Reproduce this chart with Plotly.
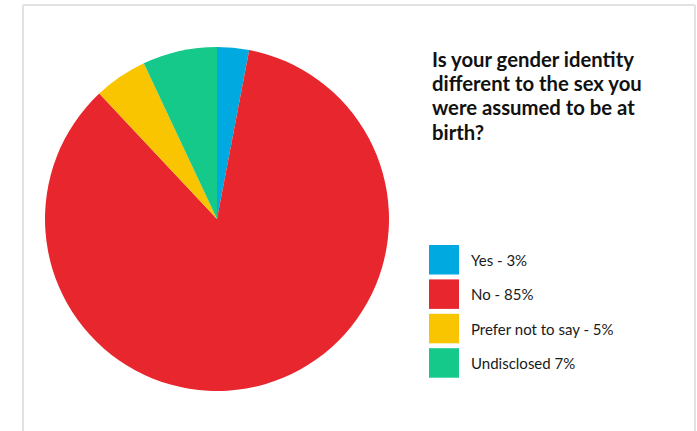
import plotly.graph_objects as go

# Survey answers and their shares (percent)
labels = ["Yes", "No", "Prefer not to say", "Undisclosed"]
values = [3, 85, 5, 7]
legend_text = ["Yes - 3%", "No - 85%", "Prefer not to say - 5%", "Undisclosed 7%"]
colors = ["#00A9E0", "#E8262D", "#F9C500", "#14C98A"]

title_lines = ["Is your gender identity", "different to the sex you",
               "were assumed to be at", "birth?"]

W, H = 697, 431

fig = go.Figure()
fig.add_trace(go.Pie(
    labels=labels,
    values=values,
    marker=dict(colors=colors, line=dict(width=0)),
    sort=False,
    direction="clockwise",
    rotation=0,
    textinfo="none",
    hoverinfo="label+percent",
    showlegend=False,
    domain=dict(x=[45 / W, 389 / W], y=[(H - 391) / H, (H - 47) / H]),
))

shapes = []
# light card border
border = "#E2E2E2"
shapes.append(dict(type="line", xref="paper", yref="paper",
                   x0=23 / W, x1=695 / W, y0=(H - 5) / H, y1=(H - 5) / H,
                   line=dict(color=border, width=2)))
shapes.append(dict(type="line", xref="paper", yref="paper",
                   x0=23 / W, x1=23 / W, y0=0, y1=(H - 5) / H,
                   line=dict(color=border, width=2)))
shapes.append(dict(type="line", xref="paper", yref="paper",
                   x0=695 / W, x1=695 / W, y0=0, y1=(H - 5) / H,
                   line=dict(color=border, width=2)))

annotations = []
# custom legend: large colour squares with labels
top0, pitch, size = 245, 34.4, 29.5
for i, (txt, col) in enumerate(zip(legend_text, colors)):
    top = top0 + i * pitch
    shapes.append(dict(type="rect", xref="paper", yref="paper",
                       x0=429 / W, x1=459 / W,
                       y0=(H - top - size) / H, y1=(H - top) / H,
                       fillcolor=col, line=dict(width=0)))
    annotations.append(dict(text=txt, xref="paper", yref="paper",
                            x=469 / W, y=(H - top - size / 2) / H,
                            xanchor="left", yanchor="middle", showarrow=False,
                            font=dict(family="Lato", size=15, color="#1a1a1a")))

# title, one line per annotation for tight line spacing
for i, line in enumerate(title_lines):
    yc = 58.5 + i * 24.4
    annotations.append(dict(text="<b>" + line + "</b>", xref="paper", yref="paper",
                            x=430 / W, y=(H - yc) / H, xanchor="left", yanchor="middle",
                            align="left", showarrow=False,
                            font=dict(family="Lato", size=20.3, color="#111111")))

fig.update_layout(
    width=W, height=H,
    margin=dict(l=0, r=0, t=0, b=0),
    paper_bgcolor="white",
    plot_bgcolor="white",
    shapes=shapes,
    annotations=annotations,
)

fig.write_html("out.html")
